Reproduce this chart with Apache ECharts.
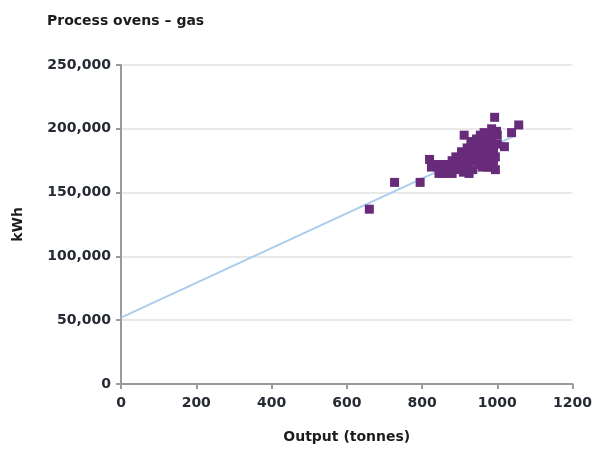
<!DOCTYPE html>
<html>
<head>
<meta charset="utf-8">
<script src="https://cdn.jsdelivr.net/npm/echarts@6/dist/echarts.min.js"></script>
<style>
  html, body { margin: 0; padding: 0; background: #fff; }
  #chart { width: 595px; height: 449px; }
</style>
</head>
<body>
<div id="chart"></div>
<script>
// output (tonnes) vs energy use (kWh)
var outputT = [660, 727, 795, 820, 825, 840, 845, 850, 860, 870, 875, 880, 890, 895, 900,
  905, 910, 915, 920, 925, 930, 935, 940, 945, 950, 955, 960, 965, 970, 975,
  980, 985, 990, 995, 1000, 1000, 985, 995, 975, 960, 920, 930, 945, 955, 965,
  940, 905, 890, 880, 870, 925, 950, 970, 980, 960, 935, 912, 993, 1057, 1038,
  1019, 998, 975, 965, 985, 950, 900, 915, 860, 990];
var energyKWh = [137000, 158000, 158000, 176000, 170000, 172000, 165000, 168000, 165000, 167000, 170000, 165000, 172000, 168000, 170000,
  175000, 166000, 178000, 172000, 180000, 175000, 168000, 182000, 178000, 185000, 172000, 188000, 180000, 176000, 190000,
  185000, 192000, 182000, 178000, 195000, 188000, 170000, 168000, 170000, 170000, 185000, 190000, 192000, 195000, 193000,
  175000, 182000, 178000, 175000, 172000, 165000, 178000, 185000, 178000, 182000, 185000, 195000, 209000, 203000, 197000,
  186000, 198000, 195000, 197000, 200000, 190000, 176000, 170000, 172000, 175000];
// fitted trend line
var trendX = [0, 1050];
var trendY = [52000, 195000];

var yTicks = [0, 50000, 100000, 150000, 200000, 250000];
var xTicks = [0, 200, 400, 600, 800, 1000, 1200];

var points = [];
for (var i = 0; i < outputT.length; i++) {
  points.push([outputT[i], energyKWh[i]]);
}
var trend = [];
for (var j = 0; j < trendX.length; j++) {
  trend.push([trendX[j], trendY[j]]);
}

var font = 'DejaVu Sans';
var labelFont = { color: '#262a33', fontSize: 14, fontFamily: font, fontWeight: 'bold' };
var nameFont = { color: '#1c1c1c', fontSize: 14, fontFamily: font, fontWeight: 'bold' };

var chart = echarts.init(document.getElementById('chart'));
chart.setOption({
  animation: false,
  title: {
    text: 'Process ovens – gas',
    left: 42, top: 9,
    textStyle: { fontSize: 14, fontWeight: 'bold', color: '#1c1c1c', fontFamily: font }
  },
  grid: { left: 121, right: 22, top: 65, bottom: 64 },
  xAxis: {
    type: 'value',
    min: xTicks[0], max: xTicks[xTicks.length - 1], interval: 200,
    name: 'Output (tonnes)',
    nameLocation: 'middle', nameGap: 46,
    nameTextStyle: nameFont,
    axisLine: { show: true, lineStyle: { color: '#9a9a9a', width: 2 } },
    axisTick: { show: true, length: 5, lineStyle: { color: '#9a9a9a', width: 2 } },
    axisLabel: Object.assign({
      margin: 12,
      formatter: function (v) { return String(v); }
    }, labelFont),
    splitLine: { show: false }
  },
  yAxis: {
    type: 'value',
    min: yTicks[0], max: yTicks[yTicks.length - 1], interval: 50000,
    name: 'kWh',
    nameLocation: 'middle', nameGap: 96,
    nameTextStyle: nameFont,
    axisLine: { show: true, lineStyle: { color: '#9a9a9a', width: 2 } },
    axisTick: { show: true, length: 5, lineStyle: { color: '#9a9a9a', width: 2 } },
    axisLabel: Object.assign({
      margin: 10,
      formatter: function (v) { return v.toLocaleString('en-US'); }
    }, labelFont),
    splitLine: { show: true, lineStyle: { color: '#e2e2e2', width: 1.5 } }
  },
  series: [
    {
      type: 'line',
      data: trend,
      symbol: 'none',
      lineStyle: { color: '#a9cdee', width: 2 },
      z: 2
    },
    {
      type: 'scatter',
      data: points,
      symbol: 'rect',
      symbolSize: 9,
      itemStyle: { color: '#672b7a', opacity: 1 },
      z: 3
    }
  ]
});
</script>
</body>
</html>
